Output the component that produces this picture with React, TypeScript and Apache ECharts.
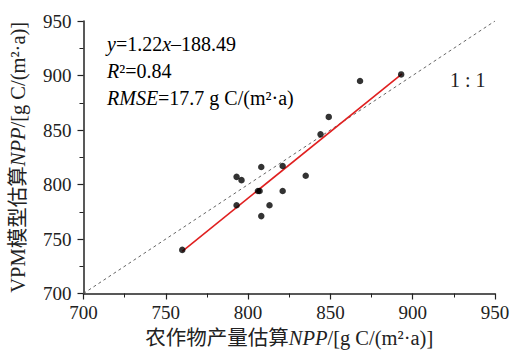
import React, { useEffect, useRef } from "react";
import * as echarts from "echarts";

const xTicks = [700, 750, 800, 850, 900, 950];
const yTicks = [700, 750, 800, 850, 900, 950];
const cropNPP = [760, 793, 796, 793, 808, 806, 807, 808, 813, 821, 821, 835, 844, 849, 868, 893];
const vpmNPP = [740, 807, 804, 781, 816, 794, 794, 771, 781, 817, 794, 808, 846, 862, 895, 901];
const slope = 1.22;
const intercept = -188.49;
const fitRange = [760, 893.5];
const oneToOne = [700, 950];

const FONT = "'Liberation Serif', 'Times New Roman', 'Noto Sans CJK SC', serif";

export default function App() {
  const ref = useRef<HTMLDivElement>(null);
  useEffect(() => {
    if (!ref.current) return;
    const chart = echarts.init(ref.current, undefined, { renderer: "svg" });
    const rich = {
      n: { fontFamily: FONT, fontSize: 20.5, color: "#222" },
      i: { fontFamily: FONT, fontSize: 20.5, color: "#222", fontStyle: "italic" },
    };
    chart.setOption({
      animation: false,
      backgroundColor: "#fff",
      grid: { left: 82, right: 21, top: 21, bottom: 59.5 },
      xAxis: {
        type: "value",
        min: xTicks[0],
        max: xTicks[xTicks.length - 1],
        interval: 50,
        name: "{n|农作物产量估算}{i|NPP}{n|/[g C/(m²·a)]}",
        nameLocation: "middle",
        nameGap: 34,
        nameTextStyle: { rich },
        axisLine: { show: true, lineStyle: { color: "#222", width: 1.5 } },
        axisTick: { show: true, inside: false, length: 6, lineStyle: { color: "#222", width: 1.2 } },
        minorTick: { show: true, splitNumber: 2, length: 4, lineStyle: { color: "#222", width: 1 } },
        splitLine: { show: false },
        axisLabel: { fontFamily: FONT, fontSize: 19, color: "#222", margin: 9 },
      },
      yAxis: {
        type: "value",
        min: yTicks[0],
        max: yTicks[yTicks.length - 1],
        interval: 50,
        name: "{n|VPM模型估算}{i|NPP}{n|/[g C/(m²·a)]}",
        nameLocation: "middle",
        nameRotate: 90,
        nameGap: 55,
        nameTextStyle: { rich },
        axisLine: { show: true, lineStyle: { color: "#222", width: 1.5 } },
        axisTick: { show: true, inside: false, length: 6, lineStyle: { color: "#222", width: 1.2 } },
        minorTick: { show: true, splitNumber: 2, length: 4, lineStyle: { color: "#222", width: 1 } },
        splitLine: { show: false },
        axisLabel: { fontFamily: FONT, fontSize: 19, color: "#222", margin: 12 },
      },
      graphic: [
        {
          type: "text",
          left: 107,
          top: 34,
          style: {
            text: "{i|y}{n|=1.22}{i|x}{n|–188.49}\n{i|R}{n|²=0.84}\n{i|RMSE}{n|=17.7 g C/(m²·a)}",
            rich: {
              n: { fontFamily: FONT, fontSize: 20, color: "#222", lineHeight: 27 },
              i: { fontFamily: FONT, fontSize: 20, color: "#222", fontStyle: "italic", lineHeight: 27 },
            },
          },
        },
        {
          type: "text",
          left: 450,
          top: 70,
          style: { text: "1 : 1", fontFamily: FONT, fontSize: 20, fill: "#222" },
        },
      ],
      series: [
        {
          type: "line",
          data: oneToOne.map((v) => [v, v]),
          symbol: "none",
          lineStyle: { color: "#666", width: 1, type: [3, 3] },
          z: 1,
        },
        {
          type: "line",
          data: fitRange.map((x) => [x, slope * x + intercept]),
          symbol: "none",
          lineStyle: { color: "#e02020", width: 1.6 },
          z: 2,
        },
        {
          type: "scatter",
          data: cropNPP.map((x, i) => [x, vpmNPP[i]]),
          symbolSize: 6.5,
          itemStyle: { color: "#000" },
          z: 3,
        },
      ],
    });
    return () => chart.dispose();
  }, []);
  return <div ref={ref} style={{ width: 516, height: 353, position: "absolute", left: 0, top: 0 }} />;
}
